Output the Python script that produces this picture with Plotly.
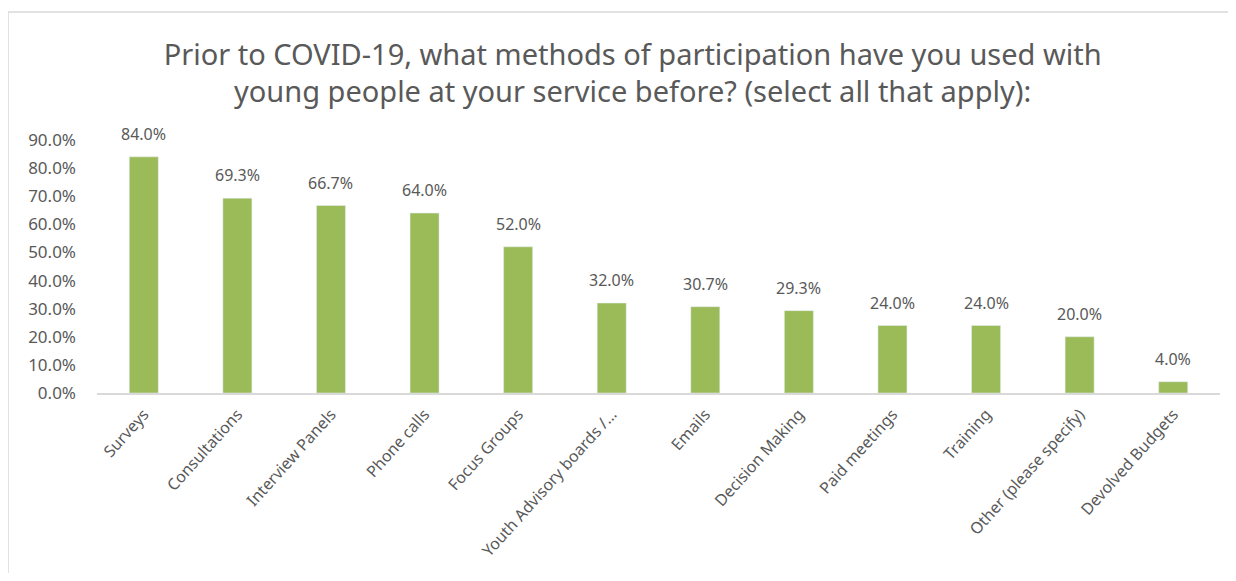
import plotly.graph_objects as go

methods = [
    "Surveys", "Consultations", "Interview Panels", "Phone calls", "Focus Groups",
    "Youth Advisory boards /...", "Emails", "Decision Making", "Paid meetings",
    "Training", "Other (please specify)", "Devolved Budgets",
]
share = [84.0, 69.3, 66.7, 64.0, 52.0, 32.0, 30.7, 29.3, 24.0, 24.0, 20.0, 4.0]
y_ticks = [0, 10, 20, 30, 40, 50, 60, 70, 80, 90]

grey = "#595959"
font = "Noto Sans"

fig = go.Figure(go.Bar(
    x=methods, y=share,
    marker_color="#9BBB59",
    cliponaxis=False,
))

# value labels sit a bit higher above the bars than plotly's default outside text
for m, v in zip(methods, share):
    fig.add_annotation(
        x=m, y=v, text=f"{v:.1f}%", showarrow=False,
        yanchor="bottom", yshift=10,
        font=dict(size=16, color=grey, family=font),
    )

# page has an 8px body margin, so the figure is drawn slightly smaller
border_x = -89 / 1123
border_y = 1 + 128 / 253
fig.update_layout(
    width=1220, height=565,
    margin=dict(l=89, r=8, t=132, b=180),
    paper_bgcolor="white", plot_bgcolor="white",
    bargap=0.69,
    showlegend=False,
    title=dict(
        text="Prior to COVID-19, what methods of participation have you used with<br>"
             "young people at your service before? (select all that apply):",
        x=0.512, xanchor="center", y=0.9, yanchor="middle",
        font=dict(size=29, color=grey, family=font),
    ),
    shapes=[
        dict(type="line", xref="paper", yref="paper", x0=border_x, x1=1.2, y0=border_y, y1=border_y,
             line=dict(color="#D9D9D9", width=1.5)),
        dict(type="line", xref="paper", yref="paper", x0=border_x, x1=border_x, y0=border_y, y1=-1,
             line=dict(color="#D9D9D9", width=1.5)),
    ],
)

fig.update_xaxes(
    tickangle=-48, showline=True, linecolor="#D9D9D9", linewidth=1.5,
    tickfont=dict(size=16, color=grey, family=font), ticks="", ticklabelstandoff=4,
)
fig.update_yaxes(
    range=[0, 90], tickvals=y_ticks, ticktext=[f"{v:.1f}%" for v in y_ticks],
    showgrid=False, zeroline=False, showline=False,
    tickfont=dict(size=17, color=grey, family=font), ticklabelstandoff=20,
)

fig.write_html("out.html")
